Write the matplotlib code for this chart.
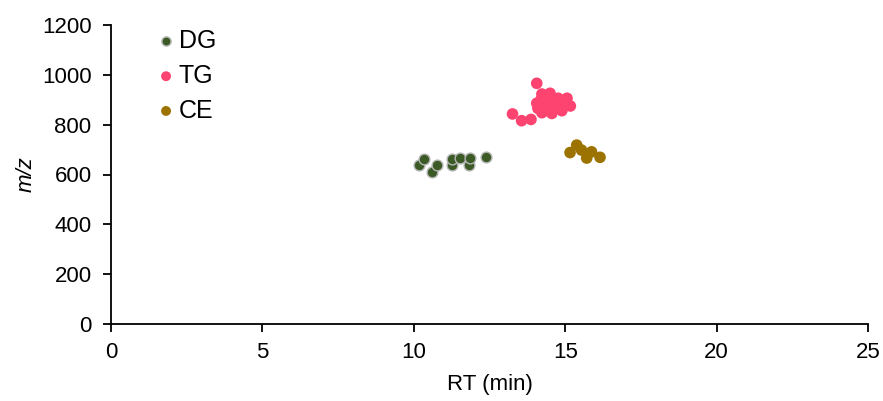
import matplotlib
matplotlib.use('Agg')
import matplotlib.pyplot as plt

plt.rcParams['font.family'] = ['Liberation Sans', 'DejaVu Sans']

# retention time (min) and m/z for each lipid class
dg_rt = [10.17, 10.35, 10.59, 10.75, 11.25, 11.25, 11.52, 11.82, 11.86, 12.37]
dg_mz = [638, 661, 611, 638, 638, 662, 665, 638, 667, 671]

tg_rt = [14.06, 13.26, 13.56, 13.87, 14.23, 14.50, 14.06, 15.06, 15.17, 14.23,
         14.56, 14.89, 14.77, 14.40, 14.60, 14.30, 14.70, 14.90, 14.20, 14.35,
         14.65, 14.10, 14.45, 14.85]
tg_mz = [966, 843, 816, 821, 923, 926, 886, 906, 875, 848,
         845, 856, 906, 890, 880, 870, 870, 890, 900, 910,
         895, 865, 855, 875]

ce_rt = [15.16, 15.38, 15.54, 15.71, 15.87, 16.15]
ce_mz = [688, 718, 698, 666, 691, 669]

fig = plt.figure(figsize=(8.83, 4.01), dpi=100)
ax = fig.add_axes([111/883, 1 - 324/401, (868 - 111)/883, (324 - 25)/401])

ax.scatter(dg_rt, dg_mz, s=60, color='#3b5a25', edgecolors='#b5b5b5',
           linewidths=1.0, label='DG', zorder=3)
ax.scatter(tg_rt, tg_mz, s=70, color='#fd4470', edgecolors='none',
           label='TG', zorder=3)
ax.scatter(ce_rt, ce_mz, s=70, color='#9c7200', edgecolors='none',
           label='CE', zorder=3)

ax.set_xlim(0, 25)
ax.set_ylim(0, 1200)
ax.set_xticks([0, 5, 10, 15, 20, 25])
ax.set_yticks([0, 200, 400, 600, 800, 1000, 1200])
ax.spines['top'].set_visible(False)
ax.spines['right'].set_visible(False)
for s in ['left', 'bottom']:
    ax.spines[s].set_linewidth(1.3)
ax.tick_params(direction='out', length=6, width=1.3, labelsize=16)
ax.tick_params(axis='y', pad=8)
ax.tick_params(axis='x', pad=7)

ax.set_xlabel('RT (min)', fontsize=16, labelpad=8)
ax.set_ylabel('m/z', fontsize=16, style='italic', labelpad=4)

leg = ax.legend(loc='upper left', bbox_to_anchor=(0.043, 1.02), frameon=False,
                fontsize=18, handletextpad=0.0, handlelength=1.0,
                labelspacing=0.43, markerscale=0.85, borderaxespad=0)

fig.savefig('out.png', dpi=100)
